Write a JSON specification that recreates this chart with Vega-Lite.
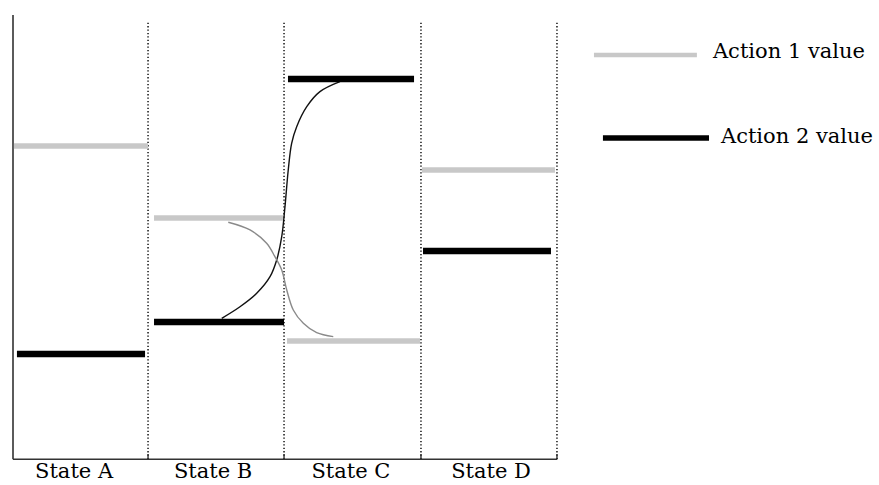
{
  "$schema": "https://vega.github.io/schema/vega-lite/v6.json",
  "width": 879,
  "height": 485,
  "autosize": {"type": "fit", "contains": "padding"},
  "padding": 0,
  "background": "white",
  "config": {"view": {"stroke": null}},
  "datasets": {
    "segments": [
      {"state": "State A", "action": "Action 1", "x1": 0.007, "x2": 0.993, "v": 70.36},
      {"state": "State A", "action": "Action 2", "x1": 0.029, "x2": 0.971, "v": 23.30},
      {"state": "State B", "action": "Action 1", "x1": 1.037, "x2": 1.985, "v": 54.07},
      {"state": "State B", "action": "Action 2", "x1": 1.037, "x2": 1.993, "v": 30.54},
      {"state": "State C", "action": "Action 2", "x1": 2.022, "x2": 2.949, "v": 85.52},
      {"state": "State C", "action": "Action 1", "x1": 2.015, "x2": 2.993, "v": 26.24},
      {"state": "State D", "action": "Action 1", "x1": 3.007, "x2": 3.985, "v": 64.93},
      {"state": "State D", "action": "Action 2", "x1": 3.015, "x2": 3.956, "v": 46.61}
    ],
    "curves": [
      {"action": "Action 2", "x": 1.535, "v": 31.38},
      {"action": "Action 2", "x": 1.669, "v": 34.00},
      {"action": "Action 2", "x": 1.792, "v": 37.04},
      {"action": "Action 2", "x": 1.890, "v": 40.79},
      {"action": "Action 2", "x": 1.939, "v": 44.57},
      {"action": "Action 2", "x": 1.976, "v": 49.84},
      {"action": "Action 2", "x": 2.000, "v": 56.63},
      {"action": "Action 2", "x": 2.024, "v": 64.93},
      {"action": "Action 2", "x": 2.049, "v": 70.97},
      {"action": "Action 2", "x": 2.086, "v": 74.73},
      {"action": "Action 2", "x": 2.160, "v": 79.25},
      {"action": "Action 2", "x": 2.257, "v": 82.65},
      {"action": "Action 2", "x": 2.404, "v": 84.91},
      {"action": "Action 1", "x": 1.583, "v": 53.10},
      {"action": "Action 1", "x": 1.743, "v": 51.36},
      {"action": "Action 1", "x": 1.865, "v": 48.35},
      {"action": "Action 1", "x": 1.926, "v": 45.32},
      {"action": "Action 1", "x": 1.976, "v": 42.31},
      {"action": "Action 1", "x": 2.013, "v": 37.78},
      {"action": "Action 1", "x": 2.061, "v": 33.26},
      {"action": "Action 1", "x": 2.135, "v": 30.25},
      {"action": "Action 1", "x": 2.233, "v": 28.12},
      {"action": "Action 1", "x": 2.355, "v": 27.22}
    ],
    "boundaries": [
      {"x": 0.993},
      {"x": 1.993},
      {"x": 3.0},
      {"x": 4.0}
    ],
    "labels": [
      {"state": "State A", "x": 0.449},
      {"state": "State B", "x": 1.471},
      {"state": "State C", "x": 2.485},
      {"state": "State D", "x": 3.515}
    ],
    "legend": [
      {"action": "Action 1", "label": "Action 1 value", "x1": 4.272, "x2": 5.029, "v": 90.95, "tx": 5.147, "tv": 90.27},
      {"action": "Action 2", "label": "Action 2 value", "x1": 4.338, "x2": 5.118, "v": 72.17, "tx": 5.206, "tv": 71.04}
    ]
  },
  "layer": [
    {
      "data": {"name": "boundaries"},
      "mark": {"type": "rule", "color": "#000000", "strokeWidth": 1.4, "strokeDash": [1.3, 2.1]},
      "encoding": {
        "x": {"field": "x", "type": "quantitative", "scale": {"domain": [-0.0956, 6.368], "nice": false, "zero": false}, "axis": null},
        "y": {"datum": -0.5, "type": "quantitative", "scale": {"domain": [-6.335, 103.39], "nice": false, "zero": false}, "axis": null},
        "y2": {"datum": 98.4}
      }
    },
    {
      "data": {"name": "boundaries"},
      "mark": {"type": "rule", "color": "#222222", "strokeWidth": 1.3},
      "encoding": {
        "x": {"field": "x", "type": "quantitative"},
        "y": {"datum": -0.5, "type": "quantitative"},
        "y2": {"datum": 0.7}
      }
    },
    {
      "data": {"values": [{"x": 0}]},
      "mark": {"type": "rule", "color": "#333333", "strokeWidth": 1.6},
      "encoding": {
        "x": {"field": "x", "type": "quantitative"},
        "y": {"datum": -0.5, "type": "quantitative"},
        "y2": {"datum": 100}
      }
    },
    {
      "data": {"values": [{"v": -0.5}]},
      "mark": {"type": "rule", "color": "#333333", "strokeWidth": 1.6},
      "encoding": {
        "x": {"datum": 0, "type": "quantitative"},
        "x2": {"datum": 4.0},
        "y": {"field": "v", "type": "quantitative"}
      }
    },
    {
      "data": {"name": "curves"},
      "mark": {"type": "line", "interpolate": "catmull-rom", "strokeWidth": 1.4},
      "encoding": {
        "x": {"field": "x", "type": "quantitative"},
        "y": {"field": "v", "type": "quantitative"},
        "detail": {"field": "action"},
        "color": {"field": "action", "type": "nominal", "scale": {"domain": ["Action 1", "Action 2"], "range": ["#8a8a8a", "#111111"]}, "legend": null}
      }
    },
    {
      "data": {"name": "segments"},
      "mark": {"type": "rule"},
      "encoding": {
        "x": {"field": "x1", "type": "quantitative"},
        "x2": {"field": "x2"},
        "y": {"field": "v", "type": "quantitative"},
        "stroke": {"field": "action", "type": "nominal", "scale": {"domain": ["Action 1", "Action 2"], "range": ["#c8c8c8", "#000000"]}, "legend": null},
        "strokeWidth": {"field": "action", "type": "nominal", "scale": {"domain": ["Action 1", "Action 2"], "range": [5.5, 6.5]}, "legend": null}
      }
    },
    {
      "data": {"name": "legend"},
      "mark": {"type": "rule"},
      "encoding": {
        "x": {"field": "x1", "type": "quantitative"},
        "x2": {"field": "x2"},
        "y": {"field": "v", "type": "quantitative"},
        "stroke": {"field": "action", "type": "nominal", "scale": {"domain": ["Action 1", "Action 2"], "range": ["#c8c8c8", "#000000"]}, "legend": null},
        "strokeWidth": {"field": "action", "type": "nominal", "scale": {"domain": ["Action 1", "Action 2"], "range": [4.5, 5.5]}, "legend": null}
      }
    },
    {
      "data": {"name": "legend"},
      "mark": {"type": "text", "font": "DejaVu Serif", "fontSize": 21, "align": "left", "baseline": "alphabetic", "color": "#000000"},
      "encoding": {
        "x": {"field": "tx", "type": "quantitative"},
        "y": {"field": "tv", "type": "quantitative"},
        "text": {"field": "label"}
      }
    },
    {
      "data": {"name": "labels"},
      "mark": {"type": "text", "font": "DejaVu Serif", "fontSize": 21, "align": "center", "baseline": "alphabetic", "color": "#000000"},
      "encoding": {
        "x": {"field": "x", "type": "quantitative"},
        "y": {"datum": -4.75, "type": "quantitative"},
        "text": {"field": "state"}
      }
    }
  ],
  "resolve": {"scale": {"stroke": "independent", "strokeWidth": "independent", "color": "independent"}}
}
